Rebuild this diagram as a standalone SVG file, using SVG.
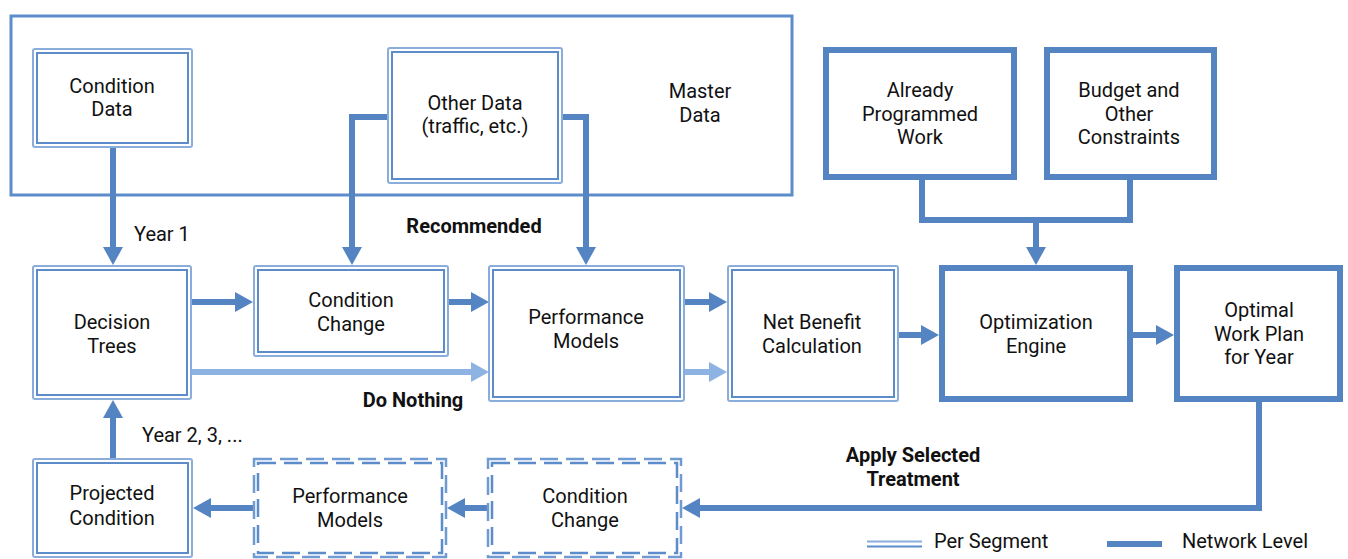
<svg xmlns="http://www.w3.org/2000/svg" width="1348" height="559" viewBox="0 0 1348 559">
<defs>
<style>
.t{font-family:Roboto,"Liberation Sans",sans-serif;font-size:20px;fill:#111;text-anchor:middle}
.tl{font-family:Roboto,"Liberation Sans",sans-serif;font-size:20px;fill:#111}
.b{font-family:Roboto,"Liberation Sans",sans-serif;font-size:20px;font-weight:bold;fill:#111;text-anchor:middle}
.o{fill:#fff;stroke:#8aaddb;stroke-width:2}
.i{fill:none;stroke:#5c8cc9;stroke-width:2}
.od{fill:#fff;stroke:#6f9bd2;stroke-width:2.5;stroke-dasharray:18 8}
.id{fill:none;stroke:#5c8cc9;stroke-width:2.5;stroke-dasharray:18 8}
.k{fill:#fff;stroke:#5584c2;stroke-width:6}
.c{fill:none;stroke:#5584c2;stroke-width:6}
.cl{fill:none;stroke:#8db3e2;stroke-width:6}
</style>
<marker id="ah" markerUnits="userSpaceOnUse" markerWidth="18" markerHeight="20" refX="8" refY="10" orient="auto"><path d="M0,0 L18,10 L0,20 z" fill="#5584c2"/></marker>
<marker id="al" markerUnits="userSpaceOnUse" markerWidth="18" markerHeight="20" refX="8" refY="10" orient="auto"><path d="M0,0 L18,10 L0,20 z" fill="#8db3e2"/></marker>
</defs>
<rect width="1348" height="559" fill="#fff"/>

<g id="master-data">
<rect x="11" y="16" width="781" height="179" fill="none" stroke="#5c8cc9" stroke-width="3"/>
<text class="t" x="700" y="98">Master</text>
<text class="t" x="700" y="122">Data</text>
</g>

<g id="connectors">
<path class="c" d="M113,148 V255" marker-end="url(#ah)"/>
<path class="c" d="M388,117 H352 V255" marker-end="url(#ah)"/>
<path class="c" d="M562,117 H586 V255" marker-end="url(#ah)"/>
<path class="c" d="M192,302 H243" marker-end="url(#ah)"/>
<path class="c" d="M449,302 H479" marker-end="url(#ah)"/>
<path class="c" d="M684,302 H717" marker-end="url(#ah)"/>
<path class="cl" d="M192,372 H479" marker-end="url(#al)"/>
<path class="cl" d="M684,372 H717" marker-end="url(#al)"/>
<path class="c" d="M899,335 H929" marker-end="url(#ah)"/>
<path class="c" d="M1133,335 H1164" marker-end="url(#ah)"/>
<path class="c" d="M922,180 V220 H1130 V180"/>
<path class="c" d="M1036,220 V255" marker-end="url(#ah)"/>
<path class="c" d="M1259,402 V508 H692" marker-end="url(#ah)"/>
<path class="c" d="M487,508 H457" marker-end="url(#ah)"/>
<path class="c" d="M253,508 H203" marker-end="url(#ah)"/>
<path class="c" d="M113,458 V410" marker-end="url(#ah)"/>
<text class="tl" x="134" y="241">Year 1</text>
<text class="tl" x="142" y="442">Year 2, 3, ...</text>
<text class="b" x="474" y="233">Recommended</text>
<text class="b" x="413" y="407">Do Nothing</text>
<text class="b" x="913" y="462">Apply Selected</text>
<text class="b" x="913" y="486">Treatment</text>
</g>

<g id="condition-data">
<rect class="o" x="33" y="49" width="159" height="98" rx="2"/>
<rect class="i" x="37" y="53" width="151" height="90"/>
<text class="t" x="112" y="93">Condition</text>
<text class="t" x="112" y="116">Data</text>
</g>

<g id="other-data">
<rect class="o" x="388" y="48" width="174" height="135" rx="2"/>
<rect class="i" x="392" y="52" width="166" height="127"/>
<text class="t" x="475" y="110">Other Data</text>
<text class="t" x="475" y="133">(traffic, etc.)</text>
</g>

<g id="decision-trees">
<rect class="o" x="33" y="266" width="158" height="133" rx="2"/>
<rect class="i" x="37" y="270" width="150" height="125"/>
<text class="t" x="112" y="329">Decision</text>
<text class="t" x="112" y="353">Trees</text>
</g>

<g id="condition-change">
<rect class="o" x="254" y="266" width="194" height="90" rx="2"/>
<rect class="i" x="258" y="270" width="186" height="82"/>
<text class="t" x="351" y="307">Condition</text>
<text class="t" x="351" y="331">Change</text>
</g>

<g id="performance-models">
<rect class="o" x="489" y="266" width="195" height="135" rx="2"/>
<rect class="i" x="493" y="270" width="187" height="127"/>
<text class="t" x="586" y="324">Performance</text>
<text class="t" x="586" y="348">Models</text>
</g>

<g id="net-benefit">
<rect class="o" x="728" y="266" width="170" height="135" rx="2"/>
<rect class="i" x="732" y="270" width="162" height="127"/>
<text class="t" x="812" y="329">Net Benefit</text>
<text class="t" x="812" y="353">Calculation</text>
</g>

<g id="already-programmed">
<rect class="k" x="826" y="50" width="188" height="127"/>
<text class="t" x="920" y="97">Already</text>
<text class="t" x="920" y="121">Programmed</text>
<text class="t" x="920" y="144">Work</text>
</g>

<g id="budget">
<rect class="k" x="1047" y="50" width="167" height="127"/>
<text class="t" x="1129" y="97">Budget and</text>
<text class="t" x="1129" y="121">Other</text>
<text class="t" x="1129" y="144">Constraints</text>
</g>

<g id="optimization-engine">
<rect class="k" x="942" y="268" width="188" height="131"/>
<text class="t" x="1036" y="329">Optimization</text>
<text class="t" x="1036" y="353">Engine</text>
</g>

<g id="optimal-work-plan">
<rect class="k" x="1177" y="268" width="163" height="131"/>
<text class="t" x="1259" y="317">Optimal</text>
<text class="t" x="1259" y="341">Work Plan</text>
<text class="t" x="1259" y="364">for Year</text>
</g>

<g id="projected-condition">
<rect class="o" x="33" y="459" width="159" height="98" rx="2"/>
<rect class="i" x="37" y="463" width="151" height="90"/>
<text class="t" x="112" y="500">Projected</text>
<text class="t" x="112" y="525">Condition</text>
</g>

<g id="performance-models-future">
<rect class="od" x="254" y="459" width="192" height="98"/>
<rect class="id" x="258" y="463" width="184" height="90"/>
<text class="t" x="350" y="503">Performance</text>
<text class="t" x="350" y="527">Models</text>
</g>

<g id="condition-change-future">
<rect class="od" x="488" y="459" width="193" height="98"/>
<rect class="id" x="492" y="463" width="185" height="90"/>
<text class="t" x="585" y="503">Condition</text>
<text class="t" x="585" y="527">Change</text>
</g>

<g id="legend">
<line x1="867" y1="541.5" x2="922" y2="541.5" stroke="#8aaddb" stroke-width="2"/>
<line x1="867" y1="546.5" x2="922" y2="546.5" stroke="#5c8cc9" stroke-width="2"/>
<text class="tl" x="934" y="548">Per Segment</text>
<line x1="1107" y1="544" x2="1162" y2="544" stroke="#5584c2" stroke-width="6"/>
<text class="tl" x="1182" y="548">Network Level</text>
</g>
</svg>
